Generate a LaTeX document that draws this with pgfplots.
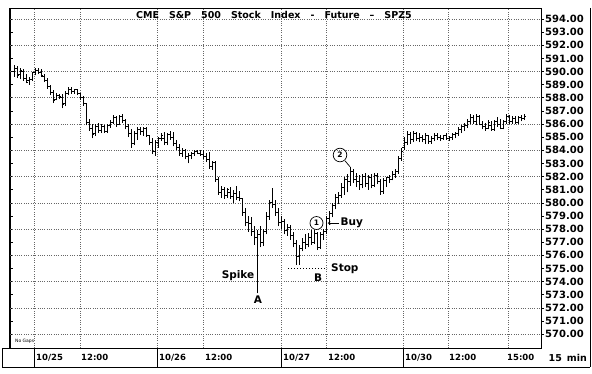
\documentclass[border=0pt]{standalone}
\usepackage{pgfplots}
\pgfplotsset{compat=1.18}
\usepackage{pgfplotstable}
\usepackage{fontspec}
\setmainfont{DejaVu Sans}
\usetikzlibrary{arrows.meta}

\pgfdeclareplotmark{otick}{\pgfpathmoveto{\pgfqpoint{-1.6pt}{0pt}}\pgfpathlineto{\pgfqpoint{0pt}{0pt}}\pgfusepathqstroke}
\pgfdeclareplotmark{ctick}{\pgfpathmoveto{\pgfqpoint{0pt}{0pt}}\pgfpathlineto{\pgfqpoint{1.6pt}{0pt}}\pgfusepathqstroke}

\pgfplotstableread{
x o h l c
14 590.0 590.5 589.6 590.2
17 590.2 590.4 589.5 589.7
20 589.8 590.3 589.4 590.1
23 590.0 590.2 589.3 589.5
26 589.5 589.8 589.1 589.2
29 589.3 589.6 589.0 589.4
32 589.4 590.0 589.3 589.9
35 589.9 590.3 589.7 590.1
38 590.1 590.3 589.8 589.9
41 589.9 590.2 589.6 589.7
44 589.6 589.8 589.2 589.3
47 589.3 589.5 588.7 588.9
50 588.9 589.0 588.2 588.4
53 588.4 588.6 587.6 587.8
56 587.9 588.4 587.8 588.2
59 588.2 588.3 587.9 588.1
62 588.0 588.3 587.2 587.5
65 587.6 588.5 587.4 588.3
68 588.3 588.8 588.2 588.6
71 588.6 588.8 588.3 588.5
74 588.5 588.7 588.3 588.6
77 588.6 588.7 588.2 588.3
80 588.3 588.4 587.8 588.0
83 588.0 588.1 587.4 587.6
86 587.6 587.6 585.9 586.1
89 586.1 586.4 585.5 585.7
92 585.7 586.0 584.9 585.2
95 585.3 586.0 585.1 585.8
98 585.8 586.1 585.3 585.5
101 585.5 586.0 585.3 585.8
104 585.8 585.9 585.3 585.4
107 585.4 586.0 585.3 585.9
110 585.9 586.3 585.7 586.1
113 586.1 586.7 586.0 586.5
116 586.5 586.6 585.8 586.0
119 586.0 586.7 585.9 586.6
122 586.6 586.8 586.1 586.3
125 586.3 586.4 585.6 585.8
128 585.8 586.0 585.0 585.3
131 585.3 585.6 584.2 584.5
134 584.5 585.5 584.4 585.3
137 585.3 585.8 584.8 585.6
140 585.6 585.8 585.2 585.4
143 585.4 585.8 585.1 585.7
146 585.7 585.8 585.0 585.1
149 585.1 585.2 584.4 584.6
152 584.6 584.9 583.7 583.9
155 583.9 584.8 583.6 584.6
158 584.6 585.0 584.2 584.9
161 584.9 585.3 584.7 585.1
164 584.9 585.4 584.4 584.6
167 584.6 585.3 584.4 585.2
170 585.2 585.5 584.8 585.0
173 585.0 585.4 584.3 584.5
176 584.5 584.8 584.0 584.2
179 584.2 584.5 583.6 583.8
182 583.8 584.2 583.5 584.0
185 584.0 584.1 583.3 583.5
188 583.5 583.8 583.0 583.6
191 583.6 583.9 583.3 583.8
194 583.8 584.0 583.6 583.9
197 583.9 584.0 583.7 583.8
200 583.8 584.0 583.6 583.7
203 583.7 584.0 583.3 583.5
206 583.5 583.8 583.1 583.3
209 583.3 583.9 582.6 582.8
212 582.8 583.2 582.5 583.1
215 583.1 583.2 581.6 581.8
218 581.8 582.0 580.6 580.8
221 580.8 581.3 580.4 581.0
224 581.0 581.2 580.3 580.6
227 580.6 581.1 580.4 581.0
230 580.8 581.2 580.3 580.5
233 580.5 581.0 580.0 580.7
236 580.7 581.3 580.2 580.4
239 580.4 580.9 580.1 580.3
242 580.3 580.4 579.0 579.3
245 579.3 579.6 578.2 578.5
248 578.5 579.0 577.8 578.4
251 578.4 578.9 577.5 577.8
254 577.8 578.2 576.8 577.4
257 577.4 577.9 573.1 577.6
260 577.6 578.2 576.6 577.0
263 577.0 578.0 576.7 577.8
266 577.8 579.3 577.6 579.0
269 579.0 580.2 578.7 580.0
272 580.0 581.1 579.6 579.9
275 579.9 580.2 579.0 579.3
278 579.3 579.6 578.2 578.5
281 578.5 579.0 578.0 578.6
284 578.6 578.8 577.6 577.9
287 577.9 578.4 577.5 578.1
290 578.1 578.3 577.2 577.5
293 577.5 577.8 576.6 576.9
296 576.9 577.2 575.3 575.9
299 575.9 576.8 575.3 576.5
302 576.5 577.3 576.3 577.0
305 577.0 577.6 576.5 576.8
308 576.8 577.7 576.6 577.4
311 577.4 577.9 576.8 577.0
314 577.0 577.9 576.9 577.7
317 577.7 577.8 576.4 576.6
320 576.6 577.8 576.5 577.6
323 577.6 578.0 577.2 577.8
326 577.8 579.0 577.6 578.8
329 578.8 579.4 578.3 579.2
332 579.2 580.0 578.9 579.8
335 579.8 580.7 579.5 580.4
338 580.4 580.8 579.9 580.6
341 580.6 581.5 580.4 581.2
344 581.2 582.0 580.6 581.8
347 581.8 582.2 580.8 581.6
350 581.6 582.7 581.3 582.4
353 582.4 582.6 581.5 581.8
356 581.8 582.3 581.2 581.6
359 581.6 582.1 581.0 581.4
362 581.4 582.2 581.1 582.0
365 582.0 582.3 581.2 581.5
368 581.5 582.1 581.0 581.9
371 581.9 582.2 581.1 581.3
374 581.3 582.3 581.2 582.1
377 582.1 582.3 581.4 581.6
380 581.6 581.8 580.6 580.9
383 580.9 581.9 580.7 581.7
386 581.7 582.0 581.2 581.9
389 581.9 582.1 581.5 581.8
392 581.8 582.4 581.7 582.2
395 582.2 582.6 581.9 582.4
398 582.4 583.6 582.2 583.4
401 583.4 584.2 583.2 583.9
404 584.2 585.0 584.0 584.6
407 584.6 585.5 584.4 585.2
410 585.2 585.4 584.5 584.8
413 584.8 585.5 584.6 585.3
416 585.3 585.4 584.7 584.9
419 584.9 585.3 584.6 585.0
422 585.0 585.2 584.6 584.8
425 584.8 585.3 584.5 585.1
428 585.1 585.2 584.5 584.7
431 584.7 585.1 584.5 584.9
434 584.9 585.3 584.7 585.1
437 585.1 585.3 584.8 585.0
440 585.0 585.2 584.7 584.9
443 584.9 585.2 584.8 585.1
446 585.1 585.3 584.8 584.9
449 584.9 585.1 584.7 585.0
452 585.0 585.3 584.8 585.2
455 585.2 585.4 584.9 585.3
458 585.3 585.8 585.1 585.6
461 585.6 585.9 585.3 585.8
464 585.8 586.1 585.5 585.9
467 585.9 586.4 585.7 586.2
470 586.2 586.8 586.0 586.5
473 586.5 586.7 586.0 586.2
476 586.2 586.8 585.9 586.6
479 586.6 586.7 585.9 586.0
482 586.0 586.2 585.6 585.8
485 585.8 586.1 585.5 585.7
488 585.7 586.3 585.6 586.1
491 585.9 586.2 585.5 585.6
494 585.6 586.3 585.5 586.2
497 586.2 586.5 585.8 586.0
500 586.0 586.4 585.6 585.7
503 585.7 586.3 585.6 586.2
506 586.2 586.8 586.0 586.6
509 586.6 586.7 586.0 586.2
512 586.2 586.6 586.0 586.4
515 586.4 586.6 586.0 586.1
518 586.1 586.6 586.0 586.5
521 586.5 586.7 586.2 586.4
524 586.4 586.8 586.3 586.6
}\bars

\begin{document}
\begin{tikzpicture}
\path[use as bounding box] (-10pt,-25pt) rectangle (582pt,348pt);

% left inward ticks
\begin{axis}[
  at={(0pt,0pt)}, anchor=south west,
  scale only axis, width=531pt, height=340pt,
  xmin=10, xmax=541, ymin=568.94, ymax=594.84,
  hide x axis, axis y line*=left,
  y axis line style={draw=none},
  ytick={570,...,594}, yticklabels={},
  tick align=inside, major tick length=3pt,
  y tick style={line width=0.6pt, black},
]
\end{axis}

\begin{axis}[
  at={(0pt,0pt)}, anchor=south west,
  scale only axis, width=531pt, height=340pt,
  xmin=10, xmax=541, ymin=568.94, ymax=594.84,
  axis line style={line width=0.8pt},
  xtick={34,80,157,203,281,326,403,448,508},
  xmajorticks=false,
  xmajorgrids=true,
  ytick={570,...,594},
  ytick pos=right, yticklabel pos=right,
  tick align=outside, major tick length=3pt,
  y tick style={line width=0.6pt, black},
  extra y ticks={570,572,...,594},
  extra y tick labels={},
  extra y tick style={grid=major, major tick length=0pt},
  major grid style={dash pattern=on 0.7pt off 1.6pt, line width=0.6pt, black!60},
  yticklabel style={font=\bfseries\fontsize{10}{12}\selectfont, inner sep=1pt,
    /pgf/number format/.cd, fixed, fixed zerofill, precision=2, assume math mode=true},
  clip=false,
]
\addplot[draw=none, mark=none, forget plot,
  error bars/.cd, y dir=plus, y explicit, error mark=none,
  error bar style={draw=black, solid, line width=0.85pt}]
  table[x=x, y=l, y error expr=\thisrow{h}-\thisrow{l}] {\bars};
\addplot[only marks, mark=otick, mark options={line width=0.85pt, black}] table[x=x, y=o] {\bars};
\addplot[only marks, mark=ctick, mark options={line width=0.85pt, black}] table[x=x, y=c] {\bars};

% annotations
\node[font=\bfseries\fontsize{10.5}{12}\selectfont] at (axis cs:238,574.42) {Spike};
\node[font=\bfseries\fontsize{10.5}{12}\selectfont] at (axis cs:258,572.59) {A};
\draw[line width=1.2pt, dash pattern=on 1.2pt off 1.8pt] (axis cs:288,574.98) -- (axis cs:327,574.98);
\node[font=\bfseries\fontsize{10.5}{12}\selectfont, anchor=west, inner sep=0pt] at (axis cs:331,574.95) {Stop};
\node[font=\bfseries\fontsize{10.5}{12}\selectfont] at (axis cs:318,574.27) {B};
\draw[line width=0.7pt] (axis cs:316.5,578.46) circle[radius=6.5pt];
\node[font=\bfseries\fontsize{7.5}{9}\selectfont] at (axis cs:316.5,578.46) {1};
\draw[line width=0.8pt, -{Stealth[length=3pt,width=3pt]}] (axis cs:339,578.46) -- (axis cs:327.5,578.46);
\node[font=\bfseries\fontsize{10.5}{12}\selectfont, anchor=west, inner sep=0pt] at (axis cs:340.5,578.46) {Buy};
\draw[line width=0.7pt] (axis cs:340,583.64) circle[radius=6.8pt];
\node[font=\bfseries\fontsize{7.5}{9}\selectfont] at (axis cs:340,583.64) {2};
\draw[line width=0.7pt] (axis cs:345,583.2) -- (axis cs:350,582.75);
\end{axis}

% thicker left frame
\draw[line width=1.2pt] (-0.8pt,0pt) -- (-0.8pt,340pt);
% title
\node[font=\bfseries\fontsize{9.5}{12}\selectfont] at (264pt,332.8pt)
 {CME\hspace{10pt}S\&P\hspace{10pt}500\hspace{10pt}Stock\hspace{10pt}Index\hspace{10pt}-\hspace{10pt}Future\hspace{10pt}–\hspace{10pt}SPZ5};
\node[font=\fontsize{4.5}{5}\selectfont, anchor=west, inner sep=0pt] at (5pt,7pt) {No Gaps};
% bottom time strip
\draw[line width=0.8pt] (-8pt,0pt) -- (0pt,0pt);
\draw[line width=0.8pt] (-8pt,0pt) -- (-8pt,-19pt) -- (580pt,-19pt);
\draw[line width=0.8pt] (580pt,340pt) -- (580pt,-19pt);
\foreach \sx in {24,147,271,393} {\draw[line width=0.8pt] (\sx pt,0pt) -- (\sx pt,-19pt);}
\begin{scope}[every node/.style={font=\bfseries\fontsize{8.5}{11}\selectfont, anchor=west, inner sep=0pt}]
\node at (26pt,-9.5pt) {10/25};
\node at (71pt,-9.5pt) {12:00};
\node at (149pt,-9.5pt) {10/26};
\node at (195pt,-9.5pt) {12:00};
\node at (273pt,-9.5pt) {10/27};
\node at (318pt,-9.5pt) {12:00};
\node at (395pt,-9.5pt) {10/30};
\node at (439pt,-9.5pt) {12:00};
\node at (497pt,-9.5pt) {15:00};
\end{scope}
\node[font=\bfseries\fontsize{9.5}{12}\selectfont, anchor=east, inner sep=0pt] at (577pt,-9.5pt) {15\hspace{5pt}min};
\end{tikzpicture}
\end{document}
